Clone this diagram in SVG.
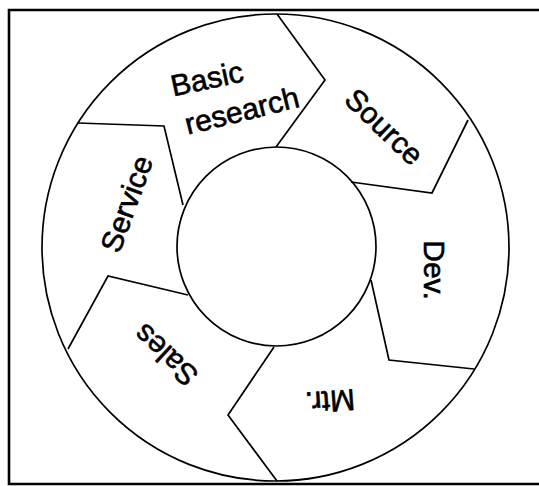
<svg xmlns="http://www.w3.org/2000/svg" width="539" height="486" viewBox="0 0 539 486">
  <style>
    .ln { fill: none; stroke: #000; stroke-width: 1.7; stroke-linejoin: miter; }
    .frame { fill: none; stroke: #000; stroke-width: 2.6; }
    .lbl { font-family: "Liberation Sans", Arial, sans-serif; font-size: 30px; fill: #000; stroke: #000; stroke-width: 0.6; text-anchor: middle; }
  </style>
  <rect width="539" height="486" fill="#fff"/>
  <g id="frame">
    <polyline class="frame" points="539,10 9,10 9,484 539,484"/>
  </g>
  <g id="ring">
    <circle class="ln" cx="275.5" cy="247.5" r="233.5"/>
    <circle class="ln" cx="276.5" cy="246.5" r="99.5"/>
  </g>
  <g id="connectors">
    <polyline class="ln" points="277,14 325,80 276,147"/>
    <polyline class="ln" points="468,120 432,193 351,182"/>
    <polyline class="ln" points="371,280 389,360 474,369"/>
    <polyline class="ln" points="277,481 228,415 274,347"/>
    <polyline class="ln" points="68,349 108,276 188,295"/>
    <polyline class="ln" points="78,123 164,126 183,205"/>
  </g>
  <g id="basic-research">
    <text class="lbl" transform="translate(207,79) rotate(-12)" y="10">Basic</text>
    <text class="lbl" transform="translate(242,111) rotate(-14)" y="10">research</text>
  </g>
  <g id="source">
    <text class="lbl" transform="translate(384,127) rotate(44)" y="10">Source</text>
  </g>
  <g id="dev">
    <text class="lbl" transform="translate(434,270) rotate(90)" y="10">Dev.</text>
  </g>
  <g id="mtr">
    <text class="lbl" transform="translate(330,401) rotate(176)" y="10">Mtr.</text>
  </g>
  <g id="sales">
    <text class="lbl" transform="translate(166,355) rotate(-137)" y="10">Sales</text>
  </g>
  <g id="service">
    <text class="lbl" transform="translate(127,204) rotate(-70)" y="10">Service</text>
  </g>
</svg>
